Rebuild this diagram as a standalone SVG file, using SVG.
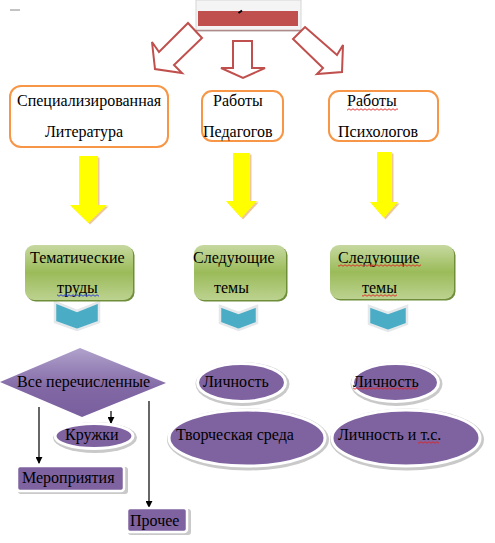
<svg xmlns="http://www.w3.org/2000/svg" width="495" height="543" viewBox="0 0 495 543">
<style>
text{font-family:"Liberation Serif","Times New Roman",serif;font-size:16px;fill:#000}
.ob{fill:#fff;stroke:#f79646;stroke-width:2}
.ra{fill:#fff;stroke:#c0504d;stroke-width:2;stroke-linejoin:miter}
.ya{fill:#ffff00}
.ys{fill:#efc89a}
.gs{fill:#6f8e3a}
.gb{fill:url(#gg)}
.ch{fill:#4bacc6;stroke:#e4e8ea;stroke-width:2.5;stroke-linejoin:miter}
.pe{fill:#7f63a1;stroke:#fff;stroke-width:3}
.psh{fill:#c9c9c9}
.pr{fill:#7f63a1;stroke:#fff;stroke-width:2.5}
.ln{stroke:#000;stroke-width:1.2;fill:none;marker-end:url(#ah)}
</style>
<defs>
<linearGradient id="gg" x1="0" y1="0" x2="0" y2="1">
<stop offset="0" stop-color="#c6d9a0"/>
<stop offset="0.5" stop-color="#9bbb59"/>
<stop offset="1" stop-color="#bcd290"/>
</linearGradient>
<linearGradient id="dg" x1="0" y1="0" x2="0" y2="1">
<stop offset="0" stop-color="#b0a2cc"/>
<stop offset="0.6" stop-color="#8167a4"/>
<stop offset="1" stop-color="#7a5f9e"/>
</linearGradient>
<marker id="ah" viewBox="0 0 8 8" refX="7" refY="4" markerWidth="7" markerHeight="7" markerUnits="userSpaceOnUse" orient="auto">
<path d="M0,0 L8,4 L0,8 z" fill="#000"/>
</marker>
<pattern id="wr" width="4" height="3" patternUnits="userSpaceOnUse">
<path d="M0,1.5 Q1,0 2,1.5 T4,1.5" fill="none" stroke="#e02020" stroke-width="0.9"/>
</pattern>
<pattern id="wb" width="4" height="3" patternUnits="userSpaceOnUse">
<path d="M0,1.5 Q1,0 2,1.5 T4,1.5" fill="none" stroke="#2030e0" stroke-width="0.9"/>
</pattern>
</defs>

<line x1="10" y1="10" x2="20" y2="10" stroke="#888" stroke-width="1"/>

<g id="top">
<rect x="196" y="0" width="105" height="31" fill="#f4f4f4" stroke="#d6d6d6" stroke-width="1"/>
<line x1="196" y1="30.5" x2="301" y2="30.5" stroke="#b08a8a" stroke-width="1.5"/>
<rect x="198" y="11" width="100" height="15" fill="#c0504d"/>
<path d="M238.5,13 L242,10.5" stroke="#000" stroke-width="2"/>
</g>

<g id="connectors">
<polygon class="ra" points="188,23 202,38 174,65 182,73 155,69 152,42 159,52"/>
<polygon class="ra" points="233,41 252,41 252,68 265,68 243,78 221,68 233,68"/>
<polygon class="ra" points="305,27 337,55 343,45 342,72 317,74 323,68 293,39"/>

<polygon class="ys" transform="translate(1.5,1.5)" points="79,156 98,156 98,205 107,205 88.5,223 70,205 79,205"/>
<polygon class="ya" points="79,156 98,156 98,205 107,205 88.5,223 70,205 79,205"/>
<polygon class="ys" transform="translate(1.5,1.5)" points="233,153 250,153 250,201 257,201 241.5,218 226,201 233,201"/>
<polygon class="ya" points="233,153 250,153 250,201 257,201 241.5,218 226,201 233,201"/>
<polygon class="ys" transform="translate(1.5,1.5)" points="377,152 392,152 392,202 398,202 384,218 370,202 377,202"/>
<polygon class="ya" points="377,152 392,152 392,202 398,202 384,218 370,202 377,202"/>

<polygon class="ch" points="55,302 77,311 99,302 99,322 77,330 55,322"/>
<polygon class="ch" points="220,306 238.5,313 257,306 257,323 238.5,330 220,323"/>
<polygon class="ch" points="369,306 388,313 407,306 407,324 388,331 369,324"/>

<line class="ln" x1="39" y1="407" x2="39" y2="463"/>
<line class="ln" x1="111" y1="411" x2="111" y2="423"/>
<line class="ln" x1="149" y1="401" x2="149" y2="507"/>
</g>

<g id="box-lit">
<rect class="ob" x="10" y="86" width="158" height="61" rx="11"/>
<text x="17" y="106">Специализированная</text>
<text x="45" y="137">Литература</text>
</g>
<g id="box-ped">
<rect class="ob" x="202" y="91" width="81" height="50" rx="10"/>
<text x="213" y="106">Работы</text>
<text x="203" y="137">Педагогов</text>
</g>
<g id="box-psy">
<rect class="ob" x="329" y="91" width="109" height="50" rx="10"/>
<text x="347" y="106">Работы</text>
<rect x="347" y="108" width="51" height="3" fill="url(#wr)"/>
<text x="338" y="137">Психологов</text>
</g>

<g id="green-1">
<rect class="gs" x="26.5" y="246.5" width="108" height="55" rx="9"/>
<rect class="gb" x="25" y="245" width="108" height="55" rx="9"/>
<text x="30" y="263">Тематические</text>
<text x="57" y="293">труды</text>
<rect x="57" y="294" width="42" height="3" fill="url(#wb)"/>
</g>
<g id="green-2">
<rect class="gs" x="195.5" y="246.5" width="92" height="55" rx="9"/>
<rect class="gb" x="194" y="245" width="92" height="55" rx="9"/>
<text x="193" y="263">Следующие</text>
<text x="214" y="293">темы</text>
</g>
<g id="green-3">
<rect class="gs" x="331.5" y="246.5" width="124" height="54" rx="9"/>
<rect class="gb" x="330" y="245" width="124" height="54" rx="9"/>
<text x="338" y="263">Следующие</text>
<rect x="338" y="264" width="83" height="3" fill="url(#wr)"/>
<text x="362" y="293">темы</text>
<rect x="362" y="294" width="35" height="3" fill="url(#wr)"/>
</g>

<g id="diamond">
<polygon points="0,382 80,348 166,383 82,417" fill="url(#dg)"/>
<text x="17" y="387">Все перечисленные</text>
</g>

<g id="kruzhki">
<ellipse class="psh" cx="95" cy="437.5" rx="42" ry="15.5"/>
<ellipse class="pe" cx="94" cy="436" rx="39" ry="12.5"/>
<text x="65" y="440">Кружки</text>
</g>

<g id="meropriyatiya">
<rect class="psh" x="18" y="467" width="110" height="27" rx="3"/>
<rect class="pr" x="17" y="466" width="107" height="25" rx="3"/>
<text x="22" y="483">Мероприятия</text>
</g>

<g id="prochee">
<rect class="psh" x="128" y="509" width="63" height="26" rx="3"/>
<rect class="pr" x="127" y="508" width="60" height="24" rx="3"/>
<text x="130" y="526">Прочее</text>
</g>

<g id="lichnost-1">
<ellipse class="psh" cx="242.5" cy="384" rx="47" ry="22"/>
<ellipse class="pe" cx="241.5" cy="382.5" rx="44" ry="19"/>
<text x="203" y="387">Личность</text>
</g>
<g id="lichnost-2">
<ellipse class="psh" cx="396.5" cy="384" rx="46" ry="22"/>
<ellipse class="pe" cx="395.5" cy="382.5" rx="43" ry="19"/>
<text x="353" y="387">Личность</text>
<rect x="353" y="387" width="64" height="3" fill="url(#wr)"/>
</g>
<g id="tvorcheskaya">
<ellipse class="psh" cx="248" cy="439.5" rx="81" ry="31"/>
<ellipse class="pe" cx="247" cy="438" rx="78" ry="28"/>
<text x="176" y="440">Творческая среда</text>
</g>
<g id="lichnost-ts">
<ellipse class="psh" cx="407" cy="439.5" rx="77" ry="31"/>
<ellipse class="pe" cx="406" cy="438" rx="74" ry="28"/>
<text x="338" y="440">Личность и т.с.</text>
<rect x="418" y="441" width="21" height="3" fill="url(#wr)"/>
</g>
</svg>
